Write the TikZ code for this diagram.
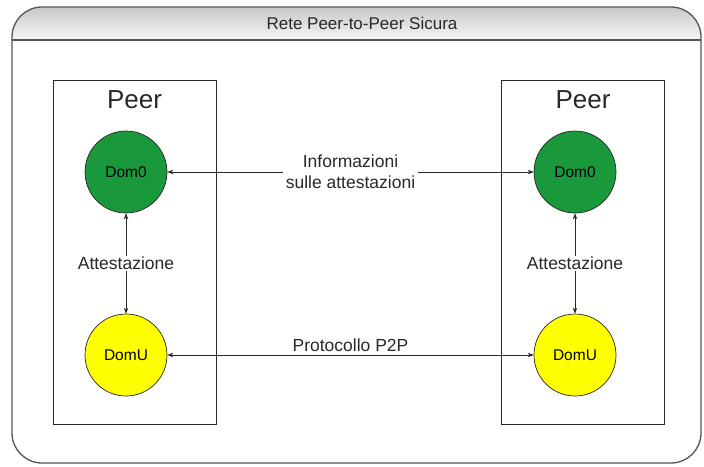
\documentclass[tikz,border=0pt]{standalone}
\usepackage{fontspec}
\setmainfont{Liberation Sans}
\usetikzlibrary{arrows.meta}
\definecolor{domgreen}{RGB}{26,152,60}
\definecolor{domyellow}{RGB}{255,255,0}
\definecolor{framegray}{RGB}{85,85,85}
\definecolor{headtop}{RGB}{200,200,200}
\definecolor{headbottom}{RGB}{246,246,246}
\definecolor{inkgray}{RGB}{40,40,40}
\begin{document}
\begin{tikzpicture}[x=1pt,y=-1pt,
  peerbox/.style={draw=inkgray,line width=0.9pt,minimum width=163pt,minimum height=344pt,inner sep=0pt},
  peertitle/.style={font=\fontsize{26}{28}\selectfont,text=inkgray},
  dom/.style={circle,draw=inkgray,line width=0.7pt,minimum size=82pt,inner sep=0pt,font=\fontsize{15.5}{18}\selectfont},
  lbl/.style={font=\fontsize{17.5}{21}\selectfont,text=inkgray,fill=white,inner sep=1.5pt,align=center},
  arr/.style={draw=inkgray,line width=0.8pt,{Stealth[length=6pt,width=4.5pt]}-{Stealth[length=6pt,width=4.5pt]}}]
\useasboundingbox (0,0) rectangle (704,466);
% outer frame with shaded header band
\begin{scope}
  \clip[rounded corners=30pt] (12,7) rectangle (701,463);
  \fill[white] (12,7) rectangle (701,463);
  \shade[top color=headtop,bottom color=headbottom] (12,7) rectangle (701,40);
\end{scope}
\draw[framegray,line width=1.3pt] (12,40) -- (701,40);
\draw[framegray,line width=1.3pt,rounded corners=30pt] (12,7) rectangle (701,463);
\node[font=\fontsize{17}{20}\selectfont,text=inkgray] (title) at (362,23) {Rete Peer-to-Peer Sicura};
% peers
\node[peerbox] (lpeer) at (134.5,252) {};
\node[peerbox] (rpeer) at (583,252) {};
\node[peertitle] (lpeertitle) at (134.5,100) {Peer};
\node[peertitle] (rpeertitle) at (583,100) {Peer};
% domains
\node[dom,fill=domgreen] (ld0) at (126,172) {Dom0};
\node[dom,fill=domyellow] (ldu) at (126,355) {DomU};
\node[dom,fill=domgreen] (rd0) at (575,172) {Dom0};
\node[dom,fill=domyellow] (rdu) at (575,355) {DomU};
% connectors
\draw[arr] (ld0) -- (ldu) node[midway,lbl] (latt) {Attestazione};
\draw[arr] (rd0) -- (rdu) node[midway,lbl] (ratt) {Attestazione};
\draw[arr] (ld0) -- (rd0) node[midway,lbl,inner sep=3pt] (info) {Informazioni\\sulle attestazioni};
\draw[arr] (ldu) -- (rdu) node[midway,above=1pt,lbl,fill=none] (p2p) {Protocollo P2P};
\end{tikzpicture}
\end{document}
